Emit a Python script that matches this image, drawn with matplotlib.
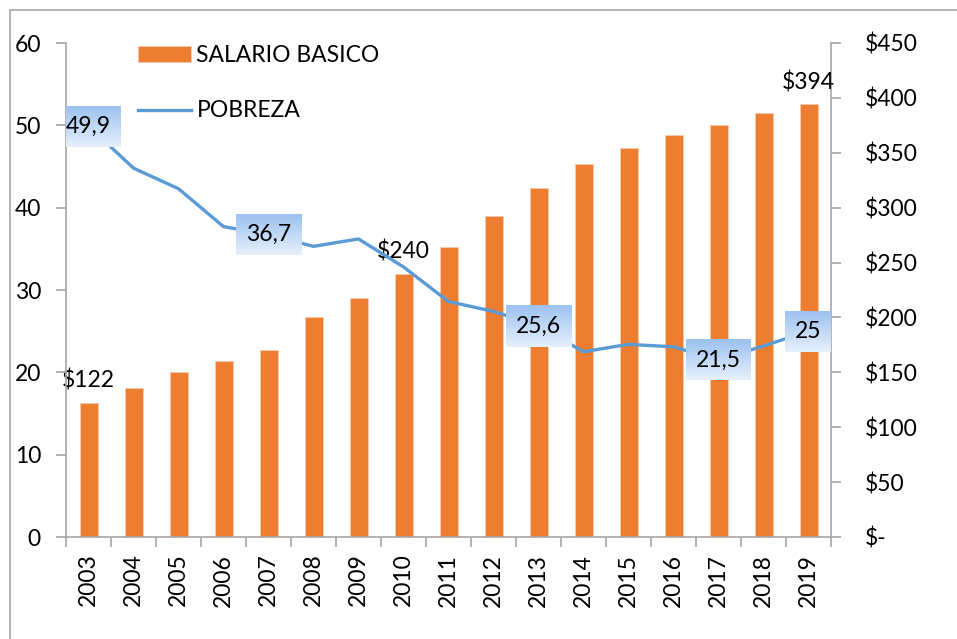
import numpy as np
import matplotlib
matplotlib.use('Agg')
import matplotlib.pyplot as plt
from matplotlib.colors import LinearSegmentedColormap
from matplotlib.patches import Rectangle

plt.rcParams['font.family'] = ['Lato', 'DejaVu Sans']

# data
years = ['2003', '2004', '2005', '2006', '2007', '2008', '2009', '2010', '2011',
         '2012', '2013', '2014', '2015', '2016', '2017', '2018', '2019']
salario = [122, 136, 150, 160, 170, 200, 218, 240, 264,
           292, 318, 340, 354, 366, 375, 386, 394]
pobreza = [49.9, 44.8, 42.3, 37.7, 36.7, 35.3, 36.2, 32.8, 28.6,
           27.4, 25.6, 22.5, 23.4, 23.1, 21.5, 23.2, 25.0]
pobreza_labels = [0, 4, 10, 14, 16]   # indices that get a value box
salario_labels = [0, 7, 16]

orange = '#ED7D31'
blue = '#5B9BD5'
grey = '#A6A6A6'
fs = 16.5

W, H = 957, 639
fig = plt.figure(figsize=(W / 100, H / 100), dpi=100)
ax = fig.add_axes([66 / W, 1 - 537 / H, (831 - 66) / W, (537 - 43) / H])
ax2 = ax.twinx()

x = np.arange(len(years))

# bars on the right axis
ax2.bar(x, salario, width=0.4, color=orange, edgecolor='#F8CBAD', linewidth=0.6,
        label='SALARIO BASICO')
for i in salario_labels:
    ax2.annotate('$' + str(salario[i]), (x[i], salario[i]), xytext=(0, 8),
                 textcoords='offset points', ha='center', va='bottom', fontsize=fs)

# line on the left axis, drawn above the bars
line, = ax.plot(x, pobreza, color=blue, lw=2.4, label='POBREZA', solid_joinstyle='round')
ax.set_zorder(ax2.get_zorder() + 1)
ax.patch.set_visible(False)

ax.set_xlim(-0.5, len(years) - 0.5)
ax.set_ylim(0, 60)
ax2.set_ylim(0, 450)

ax.set_yticks(range(0, 61, 10))
ax2.set_yticks(range(0, 451, 50))
ax2.set_yticklabels(['$-'] + ['$' + str(v) for v in range(50, 451, 50)])
for lab in ax2.get_yticklabels():
    lab.set_horizontalalignment('left')

ax.set_xticks(x)
ax.set_xticklabels(years, rotation=90)
ax.set_xticks(np.arange(-0.5, len(years)), minor=True)

for a in (ax, ax2):
    for s in a.spines.values():
        s.set_color(grey)
        s.set_linewidth(1.2)
    a.spines['top'].set_visible(False)
ax.spines['right'].set_visible(False)
ax2.spines['left'].set_visible(False)
ax2.spines['bottom'].set_visible(False)

ax.tick_params(axis='y', length=7, width=1.2, color=grey, labelsize=fs, pad=11)
ax2.tick_params(axis='y', length=7, width=1.2, color=grey, labelsize=fs, pad=17)
ax.tick_params(axis='x', which='major', length=0, labelsize=fs, pad=12)
ax.tick_params(axis='x', which='minor', length=7, width=1.2, color=grey)

# value boxes with a light blue gradient
labels = []
for i in pobreza_labels:
    txt = ('%.1f' % pobreza[i]).replace('.', ',').replace(',0', '')
    t = ax.text(x[i], pobreza[i], txt, ha='center', va='center', fontsize=fs, zorder=6)
    labels.append(t)

fig.canvas.draw()
renderer = fig.canvas.get_renderer()
cmap = LinearSegmentedColormap.from_list('box', ['#9CC2F0', '#E6F0FC'])
grad = np.linspace(0, 1, 64).reshape(-1, 1)
inv = ax.transData.inverted()
for t in labels:
    bb = t.get_window_extent(renderer)
    cy = (bb.y0 + bb.y1) / 2
    px0, px1 = bb.x0 - 10, bb.x1 + 10
    py0, py1 = cy - 20.5, cy + 20.5
    (x0, y0), (x1, y1) = inv.transform([(px0, py0), (px1, py1)])
    ax.imshow(grad, extent=[x0, x1, y0, y1], aspect='auto', cmap=cmap, zorder=5,
              interpolation='bilinear')
ax.set_xlim(-0.5, len(years) - 0.5)
ax.set_ylim(0, 60)

# legend without a frame
bar_handle = ax2.containers[0]
fig.legend([bar_handle, line], ['SALARIO BASICO', 'POBREZA'], loc='upper left',
           bbox_to_anchor=(138 / W, 1 - 45 / H), bbox_transform=fig.transFigure,
           frameon=False, fontsize=fs, handlelength=2.3, handleheight=0.65,
           handletextpad=0.25, labelspacing=1.5, borderpad=0, borderaxespad=0)

# outer chart border
fig.patches.append(Rectangle((10 / W, -0.1), 1.2, 1.1 - 10 / H, transform=fig.transFigure,
                             fill=False, ec=grey, lw=1.2))

fig.savefig('out.png', dpi=100)
